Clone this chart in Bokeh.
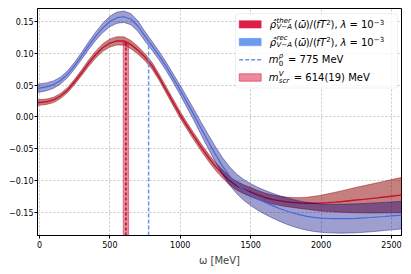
import numpy as np
from bokeh.plotting import figure
from bokeh.models import Range1d, FixedTicker, BoxAnnotation, Label, Arrow
from bokeh.embed import file_html
from bokeh.resources import INLINE

# ---------------- data ----------------
omega = [-50, 0, 50, 100, 150, 200, 250, 300, 350, 400, 450, 500, 550, 600,
         650, 700, 750, 800, 850, 900, 950, 1000, 1050, 1100, 1150, 1200,
         1250, 1300, 1350, 1400, 1450, 1500, 1550, 1600, 1650, 1700, 1750,
         1800, 1850, 1900, 1950, 2000, 2050, 2100, 2150, 2200, 2250, 2300,
         2350, 2400, 2450, 2500, 2550, 2600]

rho_ther = [0.0225, 0.0228, 0.0240, 0.0268, 0.0330, 0.0425, 0.0555, 0.0700,
            0.0850, 0.0985, 0.1095, 0.1165, 0.1200, 0.1198, 0.1140, 0.1050,
            0.0940, 0.0805, 0.0625, 0.0425, 0.0225, 0.0030, -0.0150, -0.0320,
            -0.0485, -0.0640, -0.0780, -0.0900, -0.1005, -0.1085, -0.1140,
            -0.1185, -0.1230, -0.1270, -0.1300, -0.1320, -0.1338, -0.1350,
            -0.1358, -0.1362, -0.1362, -0.1360, -0.1352, -0.1343, -0.1333,
            -0.1322, -0.1311, -0.1300, -0.1288, -0.1276, -0.1263, -0.1250,
            -0.1238, -0.1225]
rho_ther_err = [0.0045, 0.0045, 0.0043, 0.0042, 0.0041, 0.0040, 0.0042, 0.0045,
                0.0050, 0.0055, 0.0060, 0.0064, 0.0066, 0.0066, 0.0064, 0.0060,
                0.0056, 0.0053, 0.0050, 0.0050, 0.0052, 0.0053, 0.0054, 0.0055,
                0.0057, 0.0059, 0.0062, 0.0065, 0.0067, 0.0069, 0.0070, 0.0071,
                0.0071, 0.0071, 0.0071, 0.0072, 0.0074, 0.0078, 0.0085, 0.0095,
                0.0110, 0.0125, 0.0140, 0.0155, 0.0170, 0.0185, 0.0200, 0.0213,
                0.0226, 0.0238, 0.0250, 0.0262, 0.0273, 0.0284]

rho_rec = [0.0445, 0.0455, 0.0475, 0.0510, 0.0575, 0.0675, 0.0810, 0.0965,
           0.1125, 0.1275, 0.1405, 0.1505, 0.1565, 0.1580, 0.1540, 0.1430,
           0.1270, 0.1120, 0.0965, 0.0795, 0.0610, 0.0420, 0.0220, 0.0020,
           -0.0190, -0.0395, -0.0590, -0.0775, -0.0930, -0.1055, -0.1150,
           -0.1225, -0.1290, -0.1345, -0.1395, -0.1440, -0.1480, -0.1515,
           -0.1545, -0.1568, -0.1585, -0.1596, -0.1602, -0.1605, -0.1605,
           -0.1603, -0.1599, -0.1593, -0.1586, -0.1578, -0.1570, -0.1561,
           -0.1552, -0.1543]
rho_rec_err = [0.0068, 0.0066, 0.0062, 0.0058, 0.0054, 0.0052, 0.0052, 0.0055,
               0.0060, 0.0066, 0.0074, 0.0082, 0.0088, 0.0090, 0.0088, 0.0082,
               0.0075, 0.0070, 0.0067, 0.0066, 0.0068, 0.0075, 0.0082, 0.0090,
               0.0100, 0.0110, 0.0120, 0.0132, 0.0143, 0.0154, 0.0164, 0.0172,
               0.0180, 0.0188, 0.0195, 0.0201, 0.0207, 0.0212, 0.0216, 0.0219,
               0.0222, 0.0224, 0.0226, 0.0227, 0.0228, 0.0228, 0.0228, 0.0227,
               0.0226, 0.0224, 0.0222, 0.0220, 0.0218, 0.0216]

m_rho = 775
m_scr = 614
m_scr_err = 19

x_ticks = [0, 500, 1000, 1500, 2000, 2500]
x_tick_labels = ["0", "500", "1000", "1500", "2000", "2500"]
y_ticks = [-0.15, -0.1, -0.05, 0.0, 0.05, 0.1, 0.15]
y_tick_labels = ["\u22120.15", "\u22120.10", "\u22120.05", "0.00", "0.05", "0.10", "0.15"]

# ---------------- figure ----------------
XR = (-14, 2571)
YR = (-0.187, 0.171)

p = figure(width=405, height=268, output_backend="svg", toolbar_location=None,
           x_range=Range1d(*XR), y_range=Range1d(*YR),
           min_border_left=37, min_border_right=4, min_border_top=8,
           min_border_bottom=28)
p.background_fill_color = "white"
p.border_fill_color = "white"
p.outline_line_color = "black"
p.outline_line_width = 1

for ax in (p.xaxis[0], p.yaxis[0]):
    ax.major_label_text_font = "DejaVu Sans"
    ax.major_label_text_font_size = "8px"
    ax.major_label_text_color = "black"
    ax.major_tick_in = 0
    ax.major_tick_out = 3
    ax.minor_tick_in = 0
    ax.minor_tick_out = 0
    ax.axis_line_color = "black"
    ax.major_tick_line_color = "black"
    ax.major_label_standoff = 2

p.xaxis.ticker = FixedTicker(ticks=x_ticks)
p.xaxis.major_label_overrides = dict(zip(x_ticks, x_tick_labels))
p.yaxis.ticker = FixedTicker(ticks=y_ticks)
p.yaxis.major_label_overrides = dict(zip(y_ticks, y_tick_labels))
p.yaxis.major_label_standoff = 1
p.xaxis.axis_label = "\u03c9 [MeV]"
p.xaxis.axis_label_text_font = "DejaVu Sans"
p.xaxis.axis_label_text_font_style = "normal"
p.xaxis.axis_label_text_font_size = "10px"
p.xaxis.axis_label_standoff = 4

p.grid.grid_line_color = "#b8b8b8"
p.grid.grid_line_dash = "2 2"
p.grid.grid_line_width = 0.8
p.xgrid.ticker = FixedTicker(ticks=x_ticks)
p.ygrid.ticker = FixedTicker(ticks=y_ticks)

om = np.array(omega, dtype=float)
th = np.array(rho_ther)
the = np.array(rho_ther_err)
rc = np.array(rho_rec)
rce = np.array(rho_rec_err)

# thermal band + line
p.varea(x=om, y1=th - the, y2=th + the, fill_color="darkred", fill_alpha=0.5)
p.line(om, th - the, line_color="darkred", line_alpha=0.55, line_width=0.8)
p.line(om, th + the, line_color="darkred", line_alpha=0.55, line_width=0.8)
p.line(om, th, line_color="#c8102e", line_width=1.4)

# reconstructed band + line
p.varea(x=om, y1=rc - rce, y2=rc + rce, fill_color="navy", fill_alpha=0.38)
p.line(om, rc - rce, line_color="navy", line_alpha=0.5, line_width=0.8)
p.line(om, rc + rce, line_color="navy", line_alpha=0.5, line_width=0.8)
p.line(om, rc, line_color="#4169e1", line_width=1.2)

# screening mass band and rho mass line
top_scr = float(np.interp(m_scr, om, th))
top_rho = float(np.interp(m_rho, om, rc))
p.quad(left=[m_scr - m_scr_err], right=[m_scr + m_scr_err], bottom=[YR[0]],
       top=[top_scr], fill_color="crimson", fill_alpha=0.5,
       line_color="crimson", line_alpha=0.5, line_width=1)
p.segment(x0=[m_scr], y0=[YR[0]], x1=[m_scr], y1=[top_scr],
          line_color="darkred", line_dash="3 2", line_width=1.2)
p.segment(x0=[m_rho], y0=[YR[0]], x1=[m_rho], y1=[top_rho],
          line_color="cornflowerblue", line_dash="4 2", line_width=1.5)

# ---------------- legend (built by hand for super/subscripts) ----------------
FL, FR, FT, FB = 37, 401, 8, 240


def dx(px):
    return XR[0] + (px - FL) / (FR - FL) * (XR[1] - XR[0])


def dy(py):
    return YR[1] - (py - FT) / (FB - FT) * (YR[1] - YR[0])


p.add_layout(BoxAnnotation(left=dx(235), right=dx(397), top=dy(13.3), bottom=dy(89.3),
                           fill_color="white", fill_alpha=0.8, line_color="#cccccc",
                           line_width=1, border_radius=3))

rows = [24.2, 42.3, 60.4, 78.5]
hx0, hx1 = 238.7, 260.7
p.add_layout(BoxAnnotation(left=dx(hx0), right=dx(hx1), top=dy(rows[0] - 3.8),
                           bottom=dy(rows[0] + 3.8), fill_color="crimson", fill_alpha=0.95,
                           line_color="crimson", line_alpha=0.95, line_width=0.5))
p.add_layout(BoxAnnotation(left=dx(hx0), right=dx(hx1), top=dy(rows[1] - 3.8),
                           bottom=dy(rows[1] + 3.8), fill_color="cornflowerblue", fill_alpha=0.95,
                           line_color="cornflowerblue", line_alpha=0.95, line_width=0.5))
p.add_layout(Arrow(end=None, start=None, x_start=dx(hx0), y_start=dy(rows[2]),
                   x_end=dx(hx1), y_end=dy(rows[2]), line_color="cornflowerblue",
                   line_dash="4 2", line_width=1.5))
p.add_layout(BoxAnnotation(left=dx(hx0), right=dx(hx1), top=dy(rows[3] - 3.8),
                           bottom=dy(rows[3] + 3.8), fill_color="crimson", fill_alpha=0.5,
                           line_color="crimson", line_alpha=0.5, line_width=1))

M, S = "10px", "7px"
SUP, SUB = -3.8, 3.2


def lab(text, px, py, size, italic):
    p.add_layout(Label(x=dx(px), y=dy(py), text=text, text_font="DejaVu Sans",
                       text_font_size=size, text_font_style="italic" if italic else "normal",
                       text_baseline="middle", text_align="left", text_color="black"))


for r, sup in ((rows[0], "ther"), (rows[1], "rec")):
    lab("\u03c1\u0302", 269.3, r, M, True)
    lab(sup, 276.0, r + SUP, S, True)
    lab("V\u2212A", 276.0, r + SUB, S, True)
    lab("(", 293.5, r, M, False)
    lab("\u03c9\u0304", 297.4, r, M, True)
    lab(")/(", 305.2, r, M, False)
    lab("fT", 315.8, r, M, True)
    lab("2", 325.8, r + SUP + 1, S, False)
    lab("),", 330.1, r, M, False)
    lab("\u03bb", 340.0, r, M, True)
    lab("=", 349.0, r, M, False)
    lab("10", 360.5, r, M, False)
    lab("\u22123", 373.3, r + SUP + 1, S, False)

lab("m", 268.3, rows[2], M, True)
lab("\u03c1", 278.3, rows[2] + SUP, S, True)
lab("0", 278.3, rows[2] + SUB, S, False)
lab("= 775 MeV", 287.5, rows[2], M, False)

lab("m", 268.3, rows[3], M, True)
lab("V", 278.3, rows[3] + SUP, S, True)
lab("scr", 278.3, rows[3] + SUB, S, True)
lab("= 614(19) MeV", 293.3, rows[3], M, False)

open("out.html", "w").write(file_html(p, INLINE))
